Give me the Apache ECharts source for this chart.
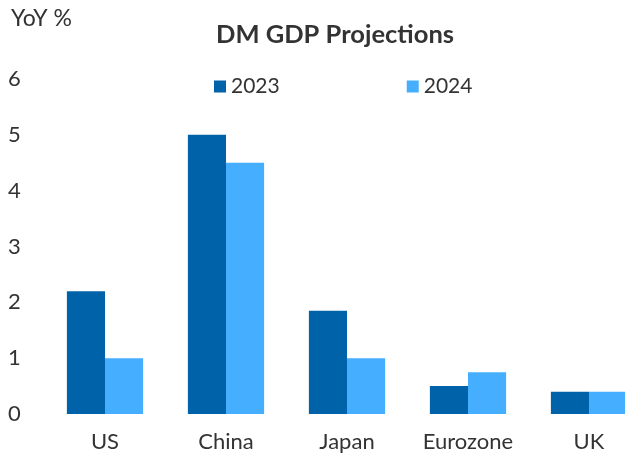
<!DOCTYPE html>
<html>
<head>
<meta charset="utf-8">
<script src="https://cdn.jsdelivr.net/npm/echarts@6/dist/echarts.min.js"></script>
<style>
  html, body { margin: 0; padding: 0; background: #ffffff; }
  #chart { width: 625px; height: 454px; }
</style>
</head>
<body>
<div id="chart"></div>
<script>
// GDP growth projections, year over year %
const categories = ['US', 'China', 'Japan', 'Eurozone', 'UK'];
const gdp2023 = [2.2, 5.0, 1.85, 0.5, 0.4];
const gdp2024 = [1.0, 4.5, 1.0, 0.75, 0.4];
const yTicks = [0, 1, 2, 3, 4, 5, 6];

const FONT = 'Lato, "Open Sans", sans-serif';
const TEXT = '#333333';

const chart = echarts.init(document.getElementById('chart'));
chart.setOption({
  animation: false,
  textStyle: { fontFamily: FONT },
  title: {
    text: 'DM GDP Projections',
    left: 335,
    textAlign: 'center',
    top: 22,
    padding: 0,
    textStyle: { fontFamily: FONT, fontSize: 25.5, fontWeight: 'bold', color: TEXT }
  },
  graphic: [{
    type: 'text',
    left: 11,
    top: 7,
    style: { text: 'YoY %', fontFamily: FONT, fontSize: 23, fill: TEXT }
  }],
  legend: {
    left: 214,
    top: 76,
    padding: 0,
    itemWidth: 12,
    itemHeight: 12,
    itemGap: 127,
    itemTextGap: 5,
    icon: 'rect',
    textStyle: { fontFamily: FONT, fontSize: 21, color: TEXT, padding: [0, 0, 0, 0] },
    data: ['2023', '2024']
  },
  grid: { left: 44.5, width: 605, top: 79, bottom: 40, outerBoundsMode: 'none', containLabel: false },
  xAxis: {
    type: 'category',
    data: categories,
    axisLine: { show: false },
    axisTick: { show: false },
    axisLabel: { interval: 0, fontFamily: FONT, fontSize: 22, color: TEXT, margin: 17 }
  },
  yAxis: {
    type: 'value',
    min: yTicks[0],
    max: yTicks[yTicks.length - 1],
    interval: 1,
    splitLine: { show: false },
    axisLine: { show: false },
    axisTick: { show: false },
    axisLabel: { fontFamily: FONT, fontSize: 22, color: TEXT, align: 'left', margin: 36.5 }
  },
  series: [
    {
      name: '2023',
      type: 'bar',
      data: gdp2023,
      barGap: '0%',
      barCategoryGap: '37%',
      itemStyle: { color: '#0062A9' }
    },
    {
      name: '2024',
      type: 'bar',
      data: gdp2024,
      itemStyle: { color: '#45AEFF' }
    }
  ]
});
</script>
</body>
</html>
